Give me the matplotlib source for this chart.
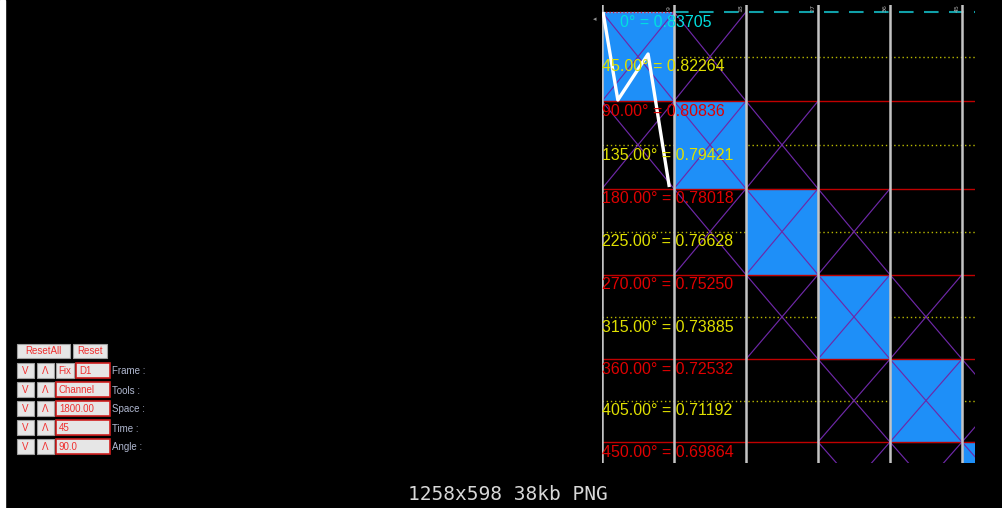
import matplotlib
matplotlib.use("Agg")
import matplotlib.pyplot as plt
from matplotlib.patches import Rectangle

# ---------------- data ----------------
angles = [0, 45, 90, 135, 180, 225, 270, 315, 360, 405, 450]
prices = [0.83705, 0.82264, 0.80836, 0.79421, 0.78018, 0.76628,
          0.75250, 0.73885, 0.72532, 0.71192, 0.69864]
next_band_price = 0.67230          # 540° level, beyond the visible area
columns = [0, 1, 2, 3, 4, 5]        # time columns (one per 90° band)
column_labels = ["9", "18", "27", "36", "45"]
# columns holding an X (diagonal cross) for each 90° band
cross_cells = [[0, 1], [0, 1, 2], [1, 2, 3], [2, 3, 4], [3, 4, 5], [3, 4, 5]]
path_time = [0.014, 0.22, 0.64, 0.935]
path_price = [0.83705, 0.80872, 0.82353, 0.78072]

panel_rows = ["Frame :", "Tools :", "Space :", "Time :", "Angle :"]
panel_values = ["D1", "Channel", "1800.00", "45", "90.0"]
footer = "1258x598 38kb PNG"

# ---------------- figure ----------------
W, H = 1002, 508
fig = plt.figure(figsize=(W / 100, H / 100), dpi=100, facecolor="black")

# UI layer in pixel coordinates
ui = fig.add_axes([0, 0, 1, 1])
ui.set_xlim(0, W)
ui.set_ylim(H, 0)
ui.axis("off")
ui.set_facecolor("black")
ui.add_patch(Rectangle((0, 0), 5, H, color="white", zorder=1))

# chart axes
left_px, right_px, top_px, bot_px = 602, 975, 5, 463
px_per_col = 72.0
px_per_price = 430.0 / (prices[0] - prices[-1])
ax = fig.add_axes([left_px / W, 1 - bot_px / H,
                   (right_px - left_px) / W, (bot_px - top_px) / H])
ax.set_facecolor("black")
ax.set_xlim(0, (right_px - left_px) / px_per_col)
ax.set_ylim(prices[0] - (bot_px - 12) / px_per_price,
            prices[0] + (12 - top_px) / px_per_price)
ax.axis("off")

band_edges = [p for a, p in zip(angles, prices) if a % 90 == 0] + [next_band_price]
half_levels = [p for a, p in zip(angles, prices) if a % 90 == 45]

# dotted 45° lines
for p in half_levels:
    ax.plot([0, 6], [p, p], color="#b8b800", lw=1.0, ls=(0, (1, 2)), zorder=1)

# blue boxes
for c in columns:
    top, bot = band_edges[c], band_edges[c + 1]
    ax.add_patch(Rectangle((c, bot), 1, top - bot, facecolor="#1e8ff8",
                           edgecolor="#5ab0ff", lw=0.8, zorder=2))

# red 90° lines
for p in band_edges[1:-1]:
    ax.plot([0, 6], [p, p], color="#c00000", lw=1.0, zorder=3)
# top line: red dotted over first box, cyan dashed after
ax.plot([0, 1], [prices[0], prices[0]], color="#e02040", lw=1.0,
        ls=(0, (1, 1.5)), zorder=3)
ax.plot([1, 6], [prices[0], prices[0]], color="#10a0a8", lw=1.5,
        ls=(0, (7, 5)), zorder=3)

# purple X diagonals
for r, cells in enumerate(cross_cells):
    top, bot = band_edges[r], band_edges[r + 1]
    for c in cells:
        ax.plot([c, c + 1], [top, bot], color="#6e28a8", lw=0.85, zorder=4)
        ax.plot([c, c + 1], [bot, top], color="#6e28a8", lw=0.85, zorder=4)

# vertical time lines
for c in columns:
    ax.plot([c, c], ax.get_ylim(), color="#c4c4c4", lw=1.8, zorder=5)
for c, lab in zip(columns[1:], column_labels):
    ax.annotate(lab, (c, prices[0]), xytext=(-5, 4), textcoords="offset pixels",
                rotation=90, fontsize=4.5, color="#b0b0b0", ha="center",
                va="center", zorder=6)

# price path
ax.plot(path_time, path_price, color="white", lw=2.4, zorder=6,
        solid_capstyle="butt")

# level labels
for a, p in zip(angles, prices):
    if a == 0:
        txt, col, dx = f"{a}° = {p:.5f}", "#00e0e0", 18
    else:
        txt = f"{a:.2f}° = {p:.5f}"
        col = "#e00000" if a % 90 == 0 else "#e0e000"
        dx = 0
    ax.annotate(txt, (0, p), xytext=(dx, -10), textcoords="offset pixels",
                fontsize=11.5, color=col, family="Liberation Sans",
                ha="left", va="center", zorder=7)

ui.text(595, 19, "◂", color="#909090", fontsize=5, ha="center", va="center")

# ---------------- control panel ----------------
def button(x0, x1, y0, y1, label, box=False):
    ui.add_patch(Rectangle((x0, y0), x1 - x0, y1 - y0, facecolor="#e6e6e6",
                           edgecolor="#d02020" if box else "#a0a0a0",
                           lw=1.2 if box else 0.8, zorder=3))
    ui.text((x0 + 3) if box else (x0 + x1) / 2, (y0 + y1) / 2 + 0.5, label,
            color="#f03030", fontsize=7, family="Liberation Sans",
            ha="left" if box else "center", va="center", zorder=4)

button(17, 70, 344, 358, "ResetAll")
button(73, 107, 344, 358, "Reset")
row_tops = [363, 382, 401, 420, 439]
for i, (name, val) in enumerate(zip(panel_rows, panel_values)):
    y0 = row_tops[i]
    y1 = y0 + 15
    button(17, 34, y0, y1, "V")
    button(37, 54, y0, y1, "Λ")
    if i == 0:
        button(56, 74, y0, y1, "Fix")
        button(76, 110, y0, y1, val, box=True)
    else:
        button(56, 110, y0, y1, val, box=True)
    ui.text(112, (y0 + y1) / 2 + 1, name, color="#b0b8d0", fontsize=7,
            family="Liberation Sans", ha="left", va="center", zorder=4)

ui.text(508, 494, footer, color="#d8d8d8", fontsize=14, family="DejaVu Sans Mono",
        ha="center", va="center")

fig.savefig("out.png", dpi=100, facecolor="black")
